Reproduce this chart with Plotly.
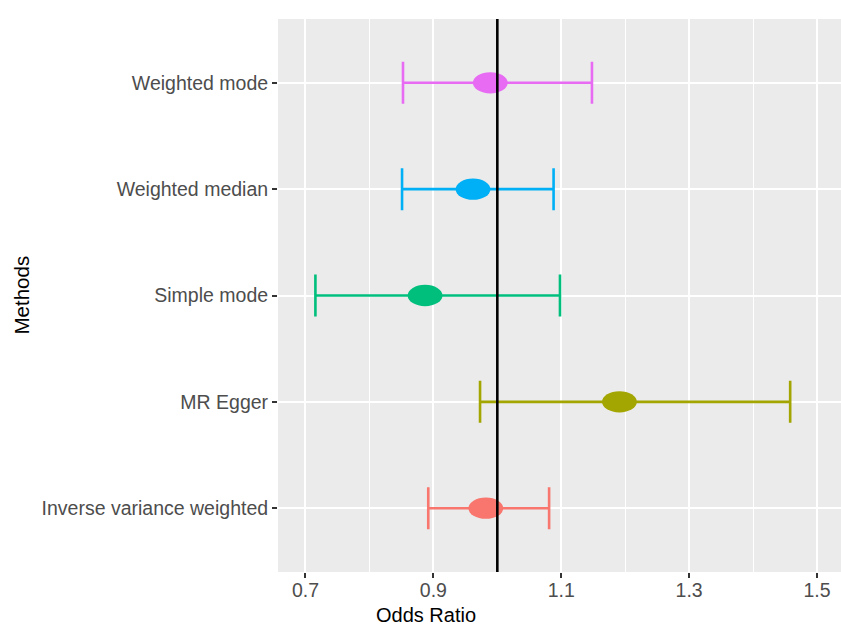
import plotly.graph_objects as go

methods = ["Inverse variance weighted", "MR Egger", "Simple mode", "Weighted median", "Weighted mode"]
odds_ratio = [0.982, 1.191, 0.887, 0.962, 0.989]
ci_lower = [0.892, 0.973, 0.7155, 0.851, 0.8525]
ci_upper = [1.081, 1.458, 1.098, 1.088, 1.148]
colors = ["#F8766D", "#A3A500", "#00BF7D", "#00B0F6", "#E76BF3"]
x_ticks = [0.7, 0.9, 1.1, 1.3, 1.5]

fig = go.Figure()
ypos = list(range(1, len(methods) + 1))

for i, m in enumerate(methods):
    fig.add_trace(go.Scatter(
        x=[odds_ratio[i]], y=[ypos[i]], mode="markers",
        marker=dict(size=2, color="rgba(0,0,0,0)"),
        error_x=dict(type="data", symmetric=False,
                     array=[ci_upper[i] - odds_ratio[i]],
                     arrayminus=[odds_ratio[i] - ci_lower[i]],
                     color=colors[i], thickness=2.6, width=21),
        showlegend=False, hoverinfo="skip"))

shapes = []
hw, hh = 0.0272, 0.1
for i in range(len(methods)):
    shapes.append(dict(type="circle", xref="x", yref="y",
                       x0=odds_ratio[i] - hw, x1=odds_ratio[i] + hw,
                       y0=ypos[i] - hh, y1=ypos[i] + hh,
                       fillcolor=colors[i], line=dict(width=0), layer="above"))
shapes.append(dict(type="line", xref="x", yref="paper", x0=1, x1=1, y0=0, y1=1,
                   line=dict(color="black", width=2.6), layer="above"))

font = "Liberation Sans, Arial, sans-serif"
fig.update_layout(
    width=841, height=626,
    margin=dict(l=278, r=0, t=19, b=54),
    paper_bgcolor="white", plot_bgcolor="#EBEBEB",
    shapes=shapes,
    font=dict(family=font, size=19.5, color="#4D4D4D"),
    xaxis=dict(range=[0.657, 1.5375], tickvals=x_ticks, ticktext=[str(v) for v in x_ticks],
               showgrid=True, gridcolor="white", gridwidth=1.8, zeroline=False,
               ticks="outside", ticklen=5, tickwidth=2, tickcolor="#333333",
               tickfont=dict(size=19.5, color="#4D4D4D"), ticklabelstandoff=-4,
               minor=dict(tickvals=[0.8, 1.0, 1.2, 1.4], showgrid=True, gridcolor="white", gridwidth=0.9, ticks=""),
               showline=False, fixedrange=True),
    yaxis=dict(range=[0.4, 5.6], tickvals=ypos, ticktext=methods,
               showgrid=True, gridcolor="white", gridwidth=1.8, zeroline=False,
               ticks="outside", ticklen=5, tickwidth=2, tickcolor="#333333",
               tickfont=dict(size=19.5, color="#4D4D4D"), showline=False, fixedrange=True),
    annotations=[
        dict(text="Odds Ratio", xref="paper", yref="paper", x=(426 - 278) / 563, y=(572 - 615) / 553,
             xanchor="center", yanchor="middle", showarrow=False,
             font=dict(family=font, size=20, color="black")),
        dict(text="Methods", xref="paper", yref="paper", x=(21 - 278) / 563, y=0.5, textangle=-90,
             xanchor="center", yanchor="middle", showarrow=False,
             font=dict(family=font, size=20.5, color="black")),
    ],
)

fig.write_html("out.html")
